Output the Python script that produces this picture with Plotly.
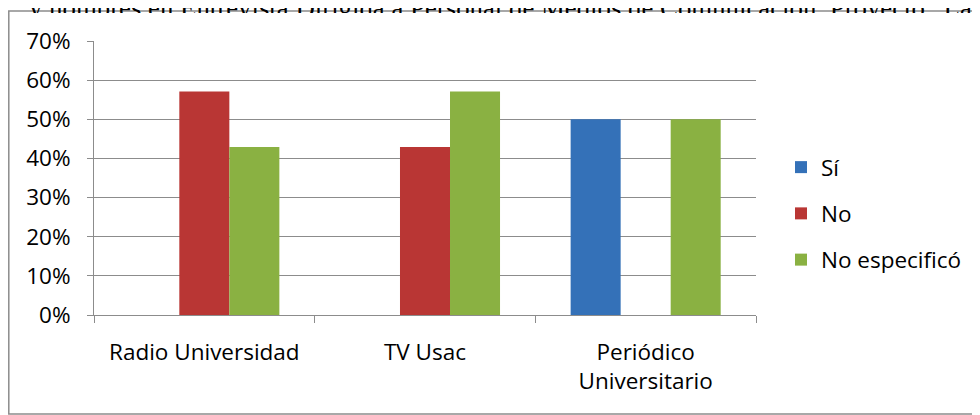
import plotly.graph_objects as go

categories = ["Radio Universidad", "TV Usac", "Periódico<br>Universitario"]
series_names = ["Sí", "No", "No especificó"]
si_values = [None, None, 0.50]
no_values = [0.571, 0.429, None]
noesp_values = [0.429, 0.571, 0.50]
colors = ["#3471b8", "#b93634", "#8ab142"]
y_ticks = [0, 0.1, 0.2, 0.3, 0.4, 0.5, 0.6, 0.7]
y_tick_labels = ["0%", "10%", "20%", "30%", "40%", "50%", "60%", "70%"]
caption = "y hombres en Entrevista Dirigida a Personal de Medios de Comunicación. Proyecto “Las"

font = "Open Sans, Arial, sans-serif"
FS = 22.5

fig = go.Figure()
for i, (name, vals) in enumerate(zip(series_names, [si_values, no_values, noesp_values])):
    fig.add_trace(go.Bar(
        x=categories, y=vals, name=name,
        marker=dict(color=colors[i], line=dict(width=0)),
        legendgroup=f"g{i}",
    ))

# figure is offset by the page's 8px body margin
OFF = 8
W, H = 980, 415
L, R, T, B = 94 - OFF, W - (756 - OFF), 41 - OFF, H - (315 - OFF)
pw, ph = W - L - R, H - T - B

def fx(px):
    return (px - OFF - L) / pw

def fy(py):
    return (H - B - (py - OFF)) / ph

grey = "#8c8c8c"
fig.update_layout(
    width=W, height=H,
    margin=dict(l=L, r=R, t=T, b=B),
    paper_bgcolor="white", plot_bgcolor="white",
    barmode="group", bargap=0.32, bargroupgap=0,
    font=dict(family=font, size=FS, color="#000000"),
    showlegend=True,
    legend=dict(
        x=fx(781), y=fy(146), xanchor="left", yanchor="top",
        font=dict(family=font, size=FS, color="#000000"),
        tracegroupgap=14, traceorder="grouped",
        bgcolor="rgba(0,0,0,0)",
    ),
    xaxis=dict(
        showline=True, linecolor=grey, linewidth=1,
        ticks="outside", tickson="boundaries", ticklen=7, tickcolor=grey,
        showgrid=False, tickfont=dict(family=font, size=FS),
        ticklabelstandoff=17, fixedrange=True, automargin=False,
    ),
    yaxis=dict(
        range=[0, 0.7], tickvals=y_ticks, ticktext=y_tick_labels,
        showline=True, linecolor=grey, linewidth=1,
        ticks="outside", ticklen=6, tickcolor=grey,
        showgrid=True, gridcolor=grey, gridwidth=1.3,
        tickfont=dict(family=font, size=FS), ticklabelstandoff=12,
        zeroline=False, fixedrange=True, automargin=False,
    ),
)

# outer frame of the embedded chart
fig.add_shape(type="rect", xref="paper", yref="paper",
              x0=fx(8.8), x1=fx(1010), y0=fy(414), y1=fy(11),
              line=dict(color=grey, width=1.5), fillcolor="rgba(0,0,0,0)", layer="below")

# caption text of the document, partly hidden behind the chart box
fig.add_annotation(text=caption, xref="paper", yref="paper",
                   x=fx(27), y=fy(25), xanchor="left", yanchor="bottom",
                   showarrow=False,
                   font=dict(family="Liberation Serif, Times New Roman, serif", size=26.8, color="#000000"))
# white chart box covering the lower half of the caption
fig.add_annotation(text=" ", xref="paper", yref="paper",
                   x=fx(10), y=fy(12.5), xanchor="left", yanchor="top",
                   showarrow=False, width=1000, height=18, bgcolor="white",
                   borderpad=0, borderwidth=0, font=dict(size=4))

fig.write_html("out.html")
